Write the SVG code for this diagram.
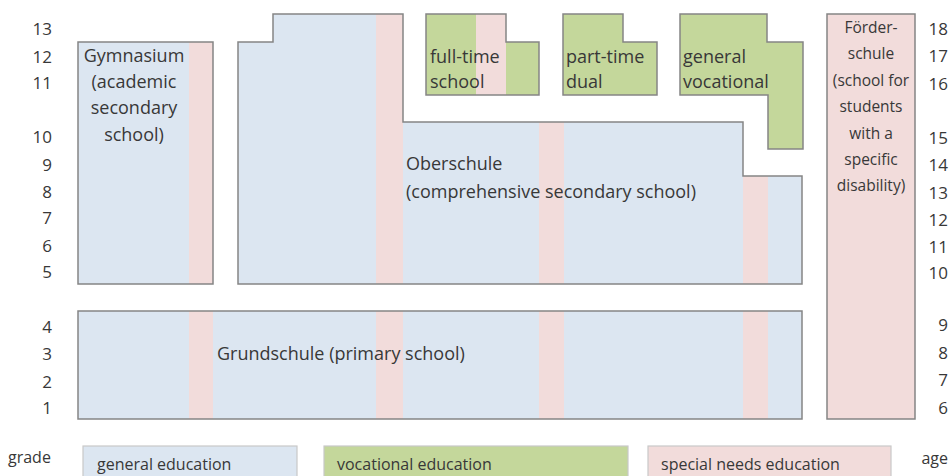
<svg xmlns="http://www.w3.org/2000/svg" width="952" height="476" viewBox="0 0 952 476">
<style>
text{font-family:"Open Sans","Liberation Sans",sans-serif;fill:#383838;font-size:17px}
.m{font-size:18px}
.num{text-anchor:end}
.c{text-anchor:middle}
.fs{font-size:15.5px}
.lg{font-size:16px}
.blue{fill:#dce6f1}
.pink{fill:#f2dcdb}
.green{fill:#c4d79b}
.out{fill:none;stroke:#858585;stroke-width:1.5}
.lgb{stroke:#c9c9c9;stroke-width:1.2}
</style>
<defs>
<clipPath id="cpOber"><path d="M238,42 H273 V14 H403 V122 H743 V176 H802 V284 H238 Z"/></clipPath>
</defs>
<rect width="952" height="476" fill="#ffffff"/>

<g id="gymnasium">
<rect class="blue" x="78" y="42" width="135" height="242"/>
<rect class="pink" x="189" y="42" width="24" height="242"/>
<rect class="out" x="78" y="42" width="135" height="242"/>
<text class="c m" x="134" y="62">Gymnasium</text>
<text class="c m" x="134" y="88">(academic</text>
<text class="c m" x="134" y="114">secondary</text>
<text class="c m" x="134" y="141">school)</text>
</g>

<g id="oberschule">
<path class="blue" d="M238,42 H273 V14 H403 V122 H743 V176 H802 V284 H238 Z"/>
<g clip-path="url(#cpOber)">
<rect class="pink" x="376" y="14" width="27" height="270"/>
<rect class="pink" x="539" y="122" width="25" height="162"/>
<rect class="pink" x="743" y="176" width="25" height="108"/>
</g>
<path class="out" d="M238,42 H273 V14 H403 V122 H743 V176 H802 V284 H238 Z"/>
<text class="m" x="406" y="170">Oberschule</text>
<text class="m" x="406" y="198">(comprehensive secondary school)</text>
</g>

<g id="fulltime">
<path class="green" d="M426,14 H506 V42 H539 V95 H426 Z"/>
<rect class="pink" x="476" y="14" width="30" height="81"/>
<path class="out" d="M426,14 H506 V42 H539 V95 H426 Z"/>
<text class="m" x="430" y="63">full-time</text>
<text class="m" x="430" y="88">school</text>
</g>

<g id="parttime">
<path class="green" d="M563,14 H623 V42 H657 V95 H563 Z"/>
<path class="out" d="M563,14 H623 V42 H657 V95 H563 Z"/>
<text class="m" x="566" y="63">part-time</text>
<text class="m" x="566" y="88">dual</text>
</g>

<g id="generalvocational">
<path class="green" d="M680,14 H767 V42 H803 V149 H768 V95 H680 Z"/>
<path class="out" d="M680,14 H767 V42 H803 V149 H768 V95 H680 Z"/>
<text class="m" x="683" y="63">general</text>
<text class="m" x="683" y="88">vocational</text>
</g>

<g id="foerderschule">
<rect class="pink" x="827" y="14" width="88" height="405"/>
<rect class="out" x="827" y="14" width="88" height="405"/>
<text class="c fs" x="871" y="33">Förder-</text>
<text class="c fs" x="871" y="59">schule</text>
<text class="c fs" x="871" y="86">(school for</text>
<text class="c fs" x="871" y="112">students</text>
<text class="c fs" x="871" y="139">with a</text>
<text class="c fs" x="871" y="165">specific</text>
<text class="c fs" x="871" y="191">disability)</text>
</g>

<g id="grundschule">
<rect class="blue" x="78" y="311" width="724" height="108"/>
<rect class="pink" x="189" y="311" width="24" height="108"/>
<rect class="pink" x="376" y="311" width="27" height="108"/>
<rect class="pink" x="539" y="311" width="25" height="108"/>
<rect class="pink" x="743" y="311" width="25" height="108"/>
<rect class="out" x="78" y="311" width="724" height="108"/>
<text class="m" x="217" y="360">Grundschule (primary school)</text>
</g>

<g id="grades">
<text class="num" x="52" y="35">13</text>
<text class="num" x="52" y="63">12</text>
<text class="num" x="52" y="89">11</text>
<text class="num" x="52" y="143">10</text>
<text class="num" x="52" y="171">9</text>
<text class="num" x="52" y="198">8</text>
<text class="num" x="52" y="224">7</text>
<text class="num" x="52" y="252">6</text>
<text class="num" x="52" y="278">5</text>
<text class="num" x="52" y="333">4</text>
<text class="num" x="52" y="360">3</text>
<text class="num" x="52" y="388">2</text>
<text class="num" x="52" y="414">1</text>
<text class="lg" x="8" y="463">grade</text>
</g>

<g id="ages">
<text class="num" x="948" y="35">18</text>
<text class="num" x="948" y="62">17</text>
<text class="num" x="948" y="90">16</text>
<text class="num" x="948" y="144">15</text>
<text class="num" x="948" y="171">14</text>
<text class="num" x="948" y="199">13</text>
<text class="num" x="948" y="226">12</text>
<text class="num" x="948" y="253">11</text>
<text class="num" x="948" y="279">10</text>
<text class="num" x="948" y="331">9</text>
<text class="num" x="948" y="359">8</text>
<text class="num" x="948" y="386">7</text>
<text class="num" x="948" y="414">6</text>
<text class="num lg" x="948" y="464">age</text>
</g>

<g id="legend">
<rect class="blue lgb" x="83" y="446" width="214" height="40"/>
<text class="lg" x="97" y="470">general education</text>
<rect class="green lgb" x="324" y="446" width="304" height="40"/>
<text class="lg" x="337" y="470">vocational education</text>
<rect class="pink lgb" x="648" y="446" width="243" height="40"/>
<text class="lg" x="661" y="470">special needs education</text>
</g>

<g id="connectors"></g>
</svg>
